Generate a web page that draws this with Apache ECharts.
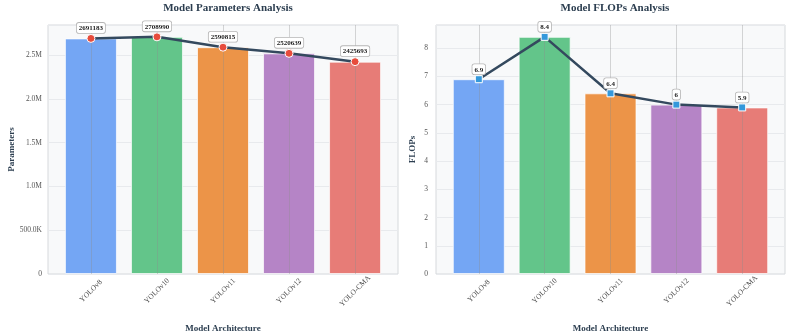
<!DOCTYPE html>
<html>
<head>
<meta charset="utf-8">
<script src="https://cdn.jsdelivr.net/npm/echarts@6/dist/echarts.min.js"></script>
<style>
  html, body { margin: 0; padding: 0; background: #fff; }
  #chart { width: 787px; height: 333px; }
</style>
</head>
<body>
<div id="chart"></div>
<script>
var models = ['YOLOv8', 'YOLOv10', 'YOLOv11', 'YOLOv12', 'YOLO-CMA'];
var params = [2691183, 2708990, 2590815, 2520639, 2425693];
var flops = [6.9, 8.4, 6.4, 6, 5.9];
var barColors = ['#74a6f4', '#63c58a', '#ec9448', '#b584c6', '#e77c77'];
var catIdx = [0, 1, 2, 3, 4];

var FONT = '"Liberation Serif", "DejaVu Serif", serif';
var DARK = '#2c3e50';

function fmtParams(v) {
    if (v === 0) return '0';
    if (v >= 1e6) return (v / 1e6).toFixed(1) + 'M';
    return (v / 1e3).toFixed(1) + 'K';
}

function pts(vals) {
    return vals.map(function (v, i) { return [i, v]; });
}

function barData(vals) {
    return vals.map(function (v, i) {
        return { value: [i, v], itemStyle: { color: barColors[i] } };
    });
}

function xAxisFor(gridIndex) {
    return {
        type: 'value', gridIndex: gridIndex, min: -0.65, max: 4.65,
        name: 'Model Architecture', nameLocation: 'middle', nameGap: 50,
        nameTextStyle: { fontFamily: FONT, fontWeight: 'bold', fontSize: 9, color: DARK },
        axisLine: { show: false },
        axisTick: { show: false },
        splitLine: { show: false },
        axisLabel: {
            customValues: catIdx, rotate: 45, margin: 17,
            align: 'center', verticalAlign: 'middle',
            fontFamily: FONT, fontSize: 7.5, color: '#444',
            formatter: function (v) { return models[Math.round(v)]; }
        }
    };
}

function lineLabel() {
    return {
        show: true, position: 'top', distance: 1,
        fontFamily: FONT, fontWeight: 'bold', fontSize: 7, color: '#222',
        backgroundColor: '#fff', borderColor: '#b5b5b5', borderWidth: 0.8,
        borderRadius: 2, padding: [2, 2, 1, 2],
        formatter: function (p) { return String(p.value[1]); }
    };
}

var catLines = {
    silent: true, symbol: 'none', label: { show: false },
    lineStyle: { color: 'rgba(140,140,140,0.35)', type: 'solid', width: 1 },
    data: catIdx.map(function (i) { return { xAxis: i }; })
};

var myChart = echarts.init(document.getElementById('chart'));
var option = {
    backgroundColor: '#fff',
    animation: false,
    title: [
        { text: 'Model Parameters Analysis', left: 223, top: -2, textAlign: 'center',
          textStyle: { fontFamily: FONT, fontWeight: 'bold', fontSize: 11, color: DARK } },
        { text: 'Model FLOPs Analysis', left: 610, top: -2, textAlign: 'center',
          textStyle: { fontFamily: FONT, fontWeight: 'bold', fontSize: 11, color: DARK } }
    ],
    grid: [
        { left: 48, width: 350, top: 25, height: 249, show: true, outerBoundsMode: 'none',
          backgroundColor: '#f8f9fa', borderColor: '#d6d9dc', borderWidth: 1 },
        { left: 436, width: 349, top: 25, height: 249, show: true, outerBoundsMode: 'none',
          backgroundColor: '#f8f9fa', borderColor: '#d6d9dc', borderWidth: 1 }
    ],
    xAxis: [xAxisFor(0), xAxisFor(1)],
    yAxis: [
        { type: 'value', gridIndex: 0, min: 0, max: 2844440, interval: 500000,
          name: 'Parameters', nameLocation: 'middle', nameGap: 31,
          nameTextStyle: { fontFamily: FONT, fontWeight: 'bold', fontSize: 9, color: DARK },
          axisLine: { show: false }, axisTick: { show: false },
          splitLine: { lineStyle: { color: '#e8eaed' } },
          axisLabel: { fontFamily: FONT, fontSize: 7.5, color: '#555', margin: 6,
                       showMaxLabel: false, formatter: fmtParams } },
        { type: 'value', gridIndex: 1, min: 0, max: 8.82, interval: 1,
          name: 'FLOPs', nameLocation: 'middle', nameGap: 19,
          nameTextStyle: { fontFamily: FONT, fontWeight: 'bold', fontSize: 9, color: DARK },
          axisLine: { show: false }, axisTick: { show: false },
          splitLine: { lineStyle: { color: '#e8eaed' } },
          axisLabel: { fontFamily: FONT, fontSize: 7.5, color: '#555', margin: 8,
                       showMaxLabel: false } }
    ],
    series: [
        { type: 'bar', xAxisIndex: 0, yAxisIndex: 0, barWidth: 52,
          itemStyle: { borderColor: 'rgba(255,255,255,0.7)', borderWidth: 1 },
          data: barData(params), markLine: catLines },
        { type: 'line', xAxisIndex: 0, yAxisIndex: 0, data: pts(params),
          lineStyle: { color: '#34495e', width: 2.5 },
          symbol: 'circle', symbolSize: 8,
          itemStyle: { color: '#e74c3c', borderColor: '#fff', borderWidth: 1 },
          label: lineLabel(), z: 5 },
        { type: 'bar', xAxisIndex: 1, yAxisIndex: 1, barWidth: 52,
          itemStyle: { borderColor: 'rgba(255,255,255,0.7)', borderWidth: 1 },
          data: barData(flops), markLine: catLines },
        { type: 'line', xAxisIndex: 1, yAxisIndex: 1, data: pts(flops),
          lineStyle: { color: '#34495e', width: 2.5 },
          symbol: 'rect', symbolSize: 7,
          itemStyle: { color: '#3498db', borderColor: '#fff', borderWidth: 1 },
          label: lineLabel(), z: 5 }
    ]
};
myChart.setOption(option);
</script>
</body>
</html>
